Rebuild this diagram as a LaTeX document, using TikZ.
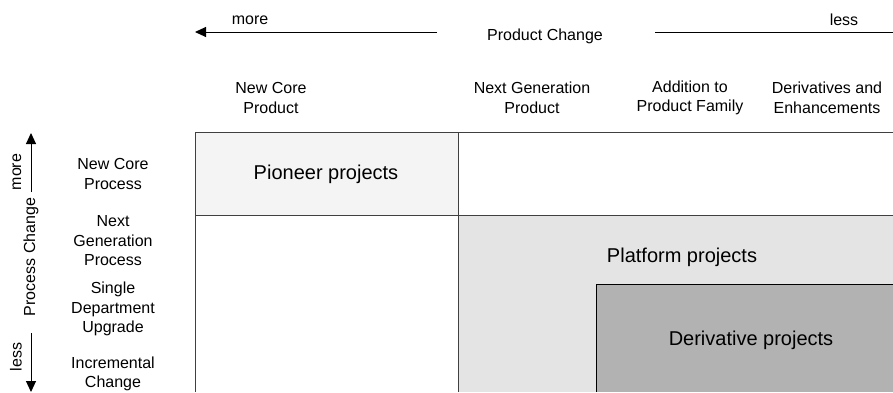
\documentclass[tikz,border=0pt]{standalone}
\usepackage{fontspec}
\setmainfont{Liberation Sans}
\usetikzlibrary{arrows.meta}
\definecolor{pionfill}{HTML}{F4F4F4}
\definecolor{platfill}{HTML}{E4E4E4}
\definecolor{derivfill}{HTML}{B2B2B2}
\definecolor{gridline}{HTML}{404040}
\begin{document}
\begin{tikzpicture}[x=1pt,y=-1pt,
  lab/.style={font=\fontsize{16}{19.5}\selectfont, align=center, inner sep=0pt},
  big/.style={font=\fontsize{20}{24}\selectfont, inner sep=0pt},
  gridl/.style={draw=gridline, line width=1pt},
  axis/.style={line width=1pt, draw=black},
  tipend/.style={-{Triangle[length=11pt,width=10pt]}}]
\useasboundingbox (0,0) rectangle (893,392);
% regions
\fill[pionfill] (195,132) rectangle (458,215);
\fill[platfill] (458,215) rectangle (893,392);
\fill[derivfill] (596,284) rectangle (893,392);
\draw[gridl] (195,392) -- (195,132) -- (893,132);
\draw[gridl] (458,132) -- (458,392);
\draw[gridl] (195,215) -- (893,215);
\draw[line width=1pt] (893,284) -- (596,284) -- (596,392);
% region labels
\node[big] (pion) at (326,174) {Pioneer projects};
\node[big] (plat) at (682,257) {Platform projects};
\node[big] (deriv) at (751,340) {Derivative projects};
% top axis
\coordinate (hs) at (437,32);
\coordinate (ht) at (195,32);
\coordinate (hl1) at (655,32);
\coordinate (hl2) at (893,32);
\draw[axis,tipend] (hs) -- (ht);
\draw[axis] (hl1) -- (hl2);
\node[lab] (hmore) at (250,20) {more};
\node[lab] (hless) at (844,20) {less};
\node[lab] (hname) at (545,36) {Product Change};
% column headers
\node[lab] (c1) at (271,98) {New Core\\Product};
\node[lab] (c2) at (532,98) {Next Generation\\Product};
\node[lab] (c3) at (690,98) {Addition to\\Product Family};
\node[lab] (c4) at (827,98) {Derivatives and\\Enhancements};
% left axis
\coordinate (vs1) at (31,192);
\coordinate (vt1) at (31,133);
\coordinate (vs2) at (31,333);
\coordinate (vt2) at (31,392);
\draw[axis,tipend] (vs1) -- (vt1);
\draw[axis,tipend] (vs2) -- (vt2);
\node[lab,rotate=90] (vmore) at (17,172) {more};
\node[lab,rotate=90] (vname) at (31,257) {Process Change};
\node[lab,rotate=90] (vless) at (16,357) {less};
% row headers
\node[lab] (r1) at (113,174) {New Core\\Process};
\node[lab] (r2) at (113,241) {Next\\Generation\\Process};
\node[lab] (r3) at (113,309) {Single\\Department\\Upgrade};
\node[lab] (r4) at (113,374) {Incremental\\Change};
\end{tikzpicture}
\end{document}
